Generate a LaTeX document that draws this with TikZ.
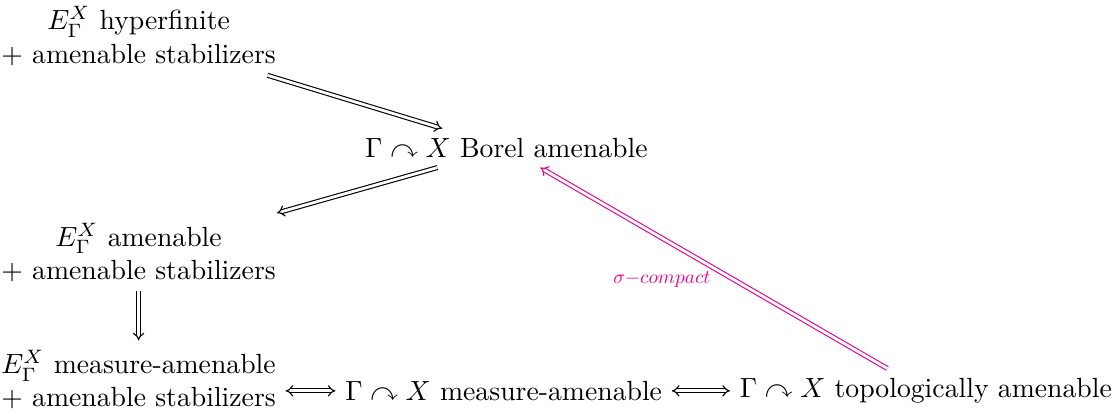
\documentclass[tikz,border=0pt]{standalone}
\usepackage{amsmath,amssymb}
\usepackage{xcolor}
\usepackage{tikz}
\usetikzlibrary{arrows.meta, positioning, calc}
\definecolor{sigmapink}{RGB}{236,0,140}
\tikzset{
  stmt/.style  = {align=center},
  impl/.style  = {double, double distance=1pt, -{Implies}},
  equiv/.style = {double, double distance=1pt, {Implies}-{Implies}},
}

\begin{document}
\begin{tikzpicture}[x=1pt, y=1pt]
  \useasboundingbox (0,0) rectangle (403,-151);
  \node[stmt] (hyp) at (50,-13) {$E_\Gamma^X$ hyperfinite\\$+$ amenable stabilizers};
  \node[stmt] (borel) at (182.7,-53.4) {$\Gamma \curvearrowright X$ Borel amenable};
  \node[stmt] (amen) at (50,-91) {$E_\Gamma^X$ amenable\\$+$ amenable stabilizers};
  \node[stmt] (mamen) at (50,-137) {$E_\Gamma^X$ measure-amenable\\$+$ amenable stabilizers};
  \node[stmt, right=18pt of mamen, yshift=-4pt] (meas) {$\Gamma \curvearrowright X$ measure-amenable};
  \node[stmt, right=21pt of meas] (topo) {$\Gamma \curvearrowright X$ topologically amenable};

  \draw[impl] (hyp) -- (borel);
  \draw[impl] (borel) -- (amen);
  \draw[impl] (amen) -- (mamen);
  \draw[equiv] (mamen.east |- meas.west) -- (meas.west);
  \draw[equiv] (meas) -- (topo);
  \draw[impl, sigmapink] (topo) -- node[midway, below left, inner sep=2pt, xshift=1pt, yshift=1pt]
    {\scalebox{0.7}{$\sigma{-}compact$}} (borel);
\end{tikzpicture}
\end{document}
